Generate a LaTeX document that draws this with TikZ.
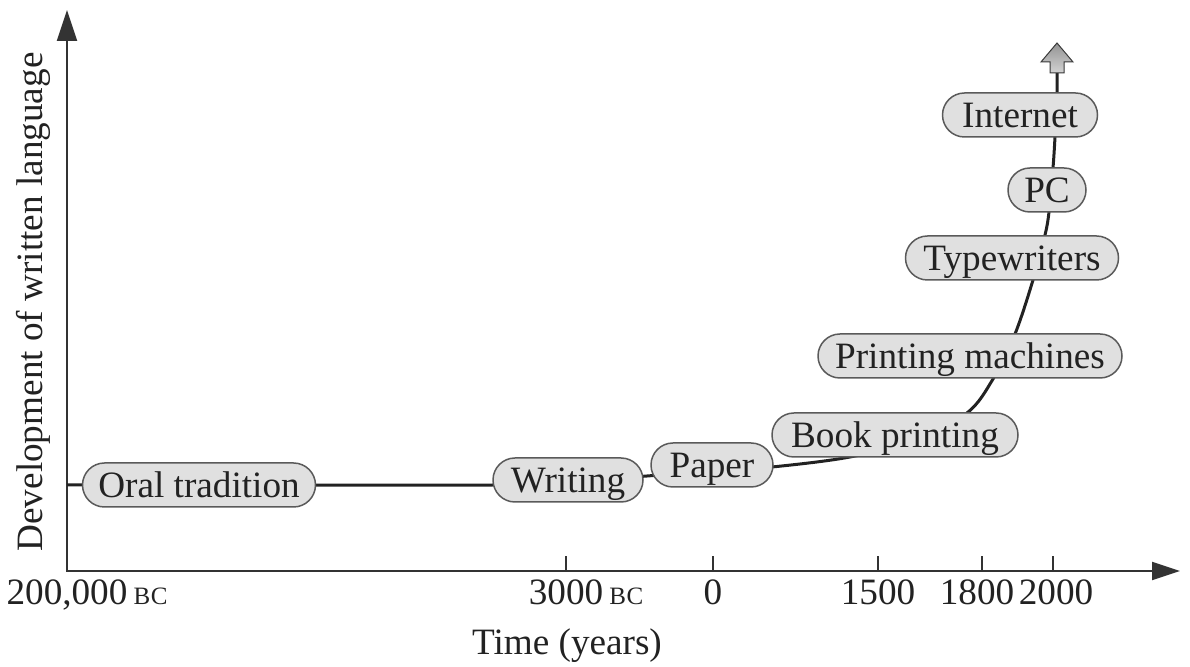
\documentclass[tikz,border=0pt]{standalone}
\usepackage{fontspec}
\setmainfont{Liberation Serif}
\usetikzlibrary{shapes.misc,arrows.meta}
\definecolor{ink}{HTML}{222222}
\definecolor{boxfill}{HTML}{E0E0E0}
\definecolor{boxline}{HTML}{5A5A5A}
\definecolor{axiscol}{HTML}{333333}
\newcommand{\bcsc}{\,{\fontsize{12.5}{12.5}\selectfont B\kern0.3pt C}}
\begin{document}
\begin{tikzpicture}[x=0.5pt,y=-0.5pt,
  txt/.style={font=\fontsize{18.6}{22}\selectfont, text=ink},
  event/.style={txt, rounded rectangle, draw=boxline, fill=boxfill, line width=0.75pt,
    minimum height=22pt, inner xsep=0pt, inner ysep=0pt, minimum width=#1*0.5pt,
    text height=12.3pt, text depth=0pt},
  axisline/.style={draw=axiscol, line width=1pt},
  tickmark/.style={draw=axiscol, line width=0.8pt},
  curveline/.style={draw=ink, line width=1.5pt},
  ticklabel/.style={txt, anchor=base, inner sep=0pt}]

\useasboundingbox (0,0) rectangle (1190,667);

% axes
\coordinate (O) at (67,571);
\coordinate (ytop) at (67,10);
\coordinate (xend) at (1180,571);
\draw[axisline, {Triangle[length=15.5pt,width=10pt]}-{Triangle[length=14pt,width=9pt]}]
  (ytop) -- (O) -- (xend);

\foreach \tx in {566,713,878,982,1053}
  \draw[tickmark] (\tx,571) -- (\tx,556);

\node[ticklabel] (t200k) at (67,605) {200,000\rlap{\bcsc}};
\node[ticklabel] (t3000) at (566,605) {3000\rlap{\bcsc}};
\node[ticklabel] (t0) at (713,605) {0};
\node[ticklabel] (t1500) at (878,605) {1500};
\node[ticklabel] (t1800) at (977,605) {1800};
\node[ticklabel] (t2000) at (1056,605) {2000};

\node[txt, anchor=base, inner sep=0pt] (xlabel) at (567,655) {Time (years)};
\node[txt, rotate=90, anchor=base, inner sep=0pt] (ylabel) at (42,302) {Development of written language};

% growth curve
\coordinate (c0) at (67,485);
\coordinate (c1) at (300,485);
\coordinate (c2) at (493,485);
\coordinate (c3) at (568,482);
\coordinate (c4) at (647,476);
\coordinate (c5) at (712,471);
\coordinate (c6) at (772,467);
\coordinate (c7) at (850,457);
\coordinate (c8) at (915,440);
\coordinate (c9) at (967,413);
\coordinate (c10) at (993,379);
\coordinate (c11) at (1015,334);
\coordinate (c12) at (1033,280);
\coordinate (c13) at (1045,235);
\coordinate (c14) at (1049,212);
\coordinate (c15) at (1053,168);
\coordinate (c16) at (1055,137);
\coordinate (c17) at (1057,93);
\coordinate (c18) at (1057,73);
\draw[curveline] plot[smooth, tension=0.55] coordinates {(c0) (c1) (c2) (c3) (c4) (c5) (c6) (c7) (c8) (c9) (c10) (c11) (c12) (c13) (c14) (c15) (c16) (c17) (c18)};

% block arrow at the top
\shadedraw[top color=gray!85, bottom color=gray!35, draw=gray!45!black, line width=0.5pt]
  (1057,43) -- (1073,62) -- (1064,62) -- (1064,73) -- (1050,73) -- (1050,62) -- (1041,62) -- cycle;

% events
\node[event=233] (oral) at (199,485) {Oral tradition};
\node[event=150] (writing) at (568,480) {Writing};
\node[event=122] (paper) at (712,465) {Paper};
\node[event=246] (book) at (895,435) {Book printing};
\node[event=304] (machines) at (970,356) {Printing machines};
\node[event=213] (typewriters) at (1012,258) {Typewriters};
\node[event=78] (pc) at (1047,190) {PC};
\node[event=155] (internet) at (1020,115) {Internet};
\end{tikzpicture}
\end{document}
